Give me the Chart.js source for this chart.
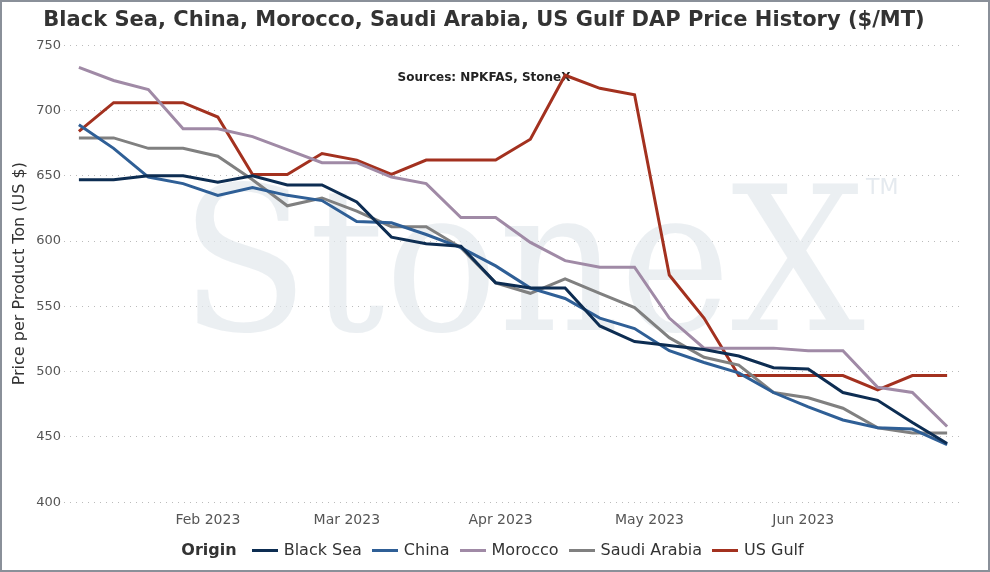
<!DOCTYPE html>
<html>
<head>
<meta charset="utf-8">
<script src="https://cdn.jsdelivr.net/npm/chart.js@4"></script>
<style>
  html, body { margin: 0; padding: 0; background: #fff; }
  #wrap { position: relative; width: 986px; height: 568px; border: 2px solid #8a9099; }
  #legend { position: absolute; left: 0; right: 0; top: 538px; text-align: center;
            font-family: "DejaVu Sans", sans-serif; font-size: 16px; color: #333; }
  #legend span.item { margin: 0 5px; }
  #legend i { display: inline-block; width: 26px; height: 3px; vertical-align: middle; margin-right: 6px; }
</style>
</head>
<body>
<div id="wrap">
  <canvas id="chart" width="986" height="568"></canvas>
  <div id="legend"></div>
</div>
<script>
// Weekly dates (Fridays), Jan 6 - Jun 30 2023
const dates = ['2023-01-06','2023-01-13','2023-01-20','2023-01-27','2023-02-03','2023-02-10','2023-02-17',
  '2023-02-24','2023-03-03','2023-03-10','2023-03-17','2023-03-24','2023-03-31','2023-04-07','2023-04-14',
  '2023-04-21','2023-04-28','2023-05-05','2023-05-12','2023-05-19','2023-05-26','2023-06-02','2023-06-09',
  '2023-06-16','2023-06-23','2023-06-30'];

const blackSea = [647,647,650,650,645,650,643,643,630,603,598,596,568,564,564,535,523,520,517,512,503,502,484,478,461,445];
const china    = [689,671,649,644,635,641,635,631,615,614,605,595,581,564,556,541,533,516,507,499,484,473,463,457,456,444];
const morocco  = [733,723,716,686,686,680,670,660,660,649,644,618,618,599,585,580,580,541,518,518,518,516,516,488,484,458];
const saudi    = [679,679,671,671,665,647,627,633,623,611,611,595,568,560,571,560,549,526,511,505,484,480,472,457,453,453];
const usGulf   = [684,706,706,706,695,651,651,667,662,651,662,662,662,678,727,717,712,574,541,497,497,497,497,486,497,497];

const monthTicks = ['2023-02-01','2023-03-01','2023-04-01','2023-05-01','2023-06-01'];
const monthLabels = ['Feb 2023','Mar 2023','Apr 2023','May 2023','Jun 2023'];

const DAY = 86400000;
const t0 = Date.UTC(2023, 0, 1);
const dayOf = s => (Date.parse(s + 'T00:00:00Z') - t0) / DAY;
const pts = arr => arr.map((v, i) => ({ x: dayOf(dates[i]), y: v }));

const series = [
  { label: 'Black Sea', data: blackSea, color: '#0d2d52' },
  { label: 'China', data: china, color: '#2f5f96' },
  { label: 'Morocco', data: morocco, color: '#a08aa6' },
  { label: 'Saudi Arabia', data: saudi, color: '#808080' },
  { label: 'US Gulf', data: usGulf, color: '#a3311f' }
];

const watermark = {
  id: 'watermark',
  beforeDatasetsDraw(chart) {
    const { ctx } = chart;
    ctx.save();
    ctx.fillStyle = 'rgba(226,232,237,0.7)';
    ctx.font = '200px "DejaVu Serif", serif';
    ctx.textBaseline = 'alphabetic';
    ctx.textAlign = 'left';
    const w = ctx.measureText('StoneX').width;
    ctx.translate(178, 328);
    ctx.scale(685 / w, 1);
    ctx.fillText('StoneX', 0, 0);
    ctx.restore();
    ctx.save();
    ctx.fillStyle = 'rgba(226,232,237,0.9)';
    ctx.font = '22px "DejaVu Sans", sans-serif';
    ctx.fillText('TM', 864, 192);
    ctx.restore();
  }
};

new Chart(document.getElementById('chart'), {
  type: 'line',
  data: {
    datasets: series.map(s => ({
      label: s.label,
      data: pts(s.data),
      borderColor: s.color,
      backgroundColor: s.color,
      borderWidth: 3,
      pointRadius: 0,
      tension: 0
    }))
  },
  plugins: [watermark],
  options: {
    responsive: false,
    animation: false,
    layout: { padding: { left: 4, right: 26, top: 0, bottom: 37 } },
    plugins: {
      legend: { display: false },
      title: {
        display: true,
        text: 'Black Sea, China, Morocco, Saudi Arabia, US Gulf DAP Price History ($/MT)',
        color: '#333', font: { family: 'DejaVu Sans', size: 21, weight: 'bold' },
        padding: { top: 6, bottom: 12 }
      },
      subtitle: {
        display: true,
        text: 'Sources: NPKFAS, StoneX',
        color: '#222', font: { family: 'DejaVu Sans', size: 12, weight: 'bold' },
        padding: { top: 25, bottom: -41 }
      }
    },
    scales: {
      x: {
        type: 'linear',
        min: 2, max: 183,
        grid: { display: false },
        border: { display: false },
        afterBuildTicks: axis => { axis.ticks = monthTicks.map(m => ({ value: dayOf(m) })); },
        ticks: {
          color: '#555', font: { family: 'DejaVu Sans', size: 14 }, maxRotation: 0,
          callback: v => monthLabels[monthTicks.findIndex(m => dayOf(m) === v)]
        }
      },
      y: {
        min: 400, max: 750,
        ticks: { stepSize: 50, color: '#555', font: { family: 'DejaVu Sans', size: 13 } },
        grid: { color: '#bbbbbb', drawTicks: false, lineWidth: 1 },
        border: { display: false, dash: [1, 5] },
        title: {
          display: true, text: 'Price per Product Ton (US $)',
          color: '#333', font: { family: 'DejaVu Sans', size: 16 }
        }
      }
    }
  }
});

document.getElementById('legend').innerHTML = '<b style="margin-right:10px">Origin</b>' +
  series.map(s => `<span class="item"><i style="background:${s.color}"></i>${s.label}</span>`).join('');
</script>
</body>
</html>
